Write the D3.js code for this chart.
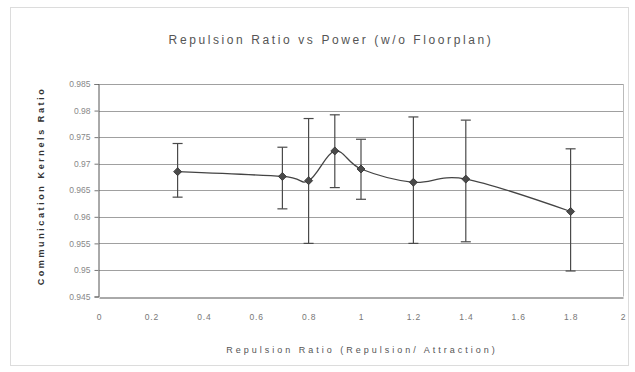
<!DOCTYPE html>
<html>
<head>
<meta charset="utf-8">
<title>Repulsion Ratio vs Power</title>
<script src="https://d3js.org/d3.v7.min.js"></script>
<style>
  body { margin: 0; background: #fff; }
  text { font-family: "Liberation Sans", Arial, sans-serif; }
</style>
</head>
<body>
<div id="chart"></div>
<script>
// data
let ratios = [0.3, 0.7, 0.8, 0.9, 1.0, 1.2, 1.4, 1.8];
let means  = [0.9685, 0.9676, 0.9668, 0.9724, 0.9690, 0.9665, 0.9671, 0.9610];
let upper  = [0.9738, 0.9731, 0.9785, 0.9792, 0.9746, 0.9788, 0.9782, 0.9728];
let lower  = [0.9637, 0.9615, 0.9550, 0.9655, 0.9633, 0.9550, 0.9553, 0.9498];
let xTicks = [0, 0.2, 0.4, 0.6, 0.8, 1, 1.2, 1.4, 1.6, 1.8, 2];
let yTicks = [0.945, 0.95, 0.955, 0.96, 0.965, 0.97, 0.975, 0.98, 0.985];

let W = 635, H = 372;
let svg = d3.select("#chart").append("svg")
    .attr("width", W).attr("height", H);

// faint outer chart border
svg.append("rect")
    .attr("x", 10.5).attr("y", 7.5)
    .attr("width", 618).attr("height", 358)
    .attr("fill", "none").attr("stroke", "#dcdcdc");

let x = d3.scaleLinear().domain([0, 2]).range([99, 623]);
let y = d3.scaleLinear().domain([0.945, 0.985]).range([296.5, 84]);

// gridlines
svg.append("g").selectAll("line")
    .data(yTicks.slice(1))
    .join("line")
      .attr("x1", x(0)).attr("x2", x(2))
      .attr("y1", d => Math.round(y(d)) + 0.5)
      .attr("y2", d => Math.round(y(d)) + 0.5)
      .attr("stroke", "#a0a0a0");

// right border of plot area
svg.append("line")
    .attr("x1", x(2) + 0.5).attr("x2", x(2) + 0.5)
    .attr("y1", y(0.985)).attr("y2", y(0.945))
    .attr("stroke", "#bbb");

// axes
let xAxis = d3.axisBottom(x).tickValues(xTicks).tickSize(0).tickPadding(16)
    .tickFormat(d => String(d));
let yAxis = d3.axisLeft(y).tickValues(yTicks).tickSize(4).tickPadding(4)
    .tickFormat(d => String(d));

let gx = svg.append("g")
    .attr("transform", "translate(0," + (Math.round(y(0.945)) + 0.5) + ")")
    .call(xAxis);
gx.select(".domain").attr("stroke", "#555");
gx.selectAll("text").attr("fill", "#777").attr("font-size", "8.5px")
    .attr("letter-spacing", "0.8px");

let gy = svg.append("g")
    .attr("transform", "translate(" + (x(0) - 0.5) + ",0)")
    .call(yAxis);
gy.select(".domain").attr("stroke", "#555");
gy.selectAll("line").attr("stroke", "#777");
gy.selectAll("text").attr("fill", "#888").attr("font-size", "8.5px");

// smoothed line
let pts = ratios.map((r, i) => [x(r), y(means[i])]);
svg.append("path")
    .attr("d", d3.line().curve(d3.curveCatmullRom.alpha(0))(pts))
    .attr("fill", "none")
    .attr("stroke", "#444")
    .attr("stroke-width", 1.3);

// error bars
let eb = svg.append("g").attr("stroke", "#4a4a4a").attr("stroke-width", 1.2);
ratios.forEach((r, i) => {
  let cx = x(r);
  eb.append("line").attr("x1", cx).attr("x2", cx)
    .attr("y1", y(upper[i])).attr("y2", y(lower[i]));
  eb.append("line").attr("x1", cx - 5).attr("x2", cx + 5)
    .attr("y1", y(upper[i])).attr("y2", y(upper[i]));
  eb.append("line").attr("x1", cx - 5).attr("x2", cx + 5)
    .attr("y1", y(lower[i])).attr("y2", y(lower[i]));
});

// diamond markers
svg.append("g").selectAll("path")
    .data(ratios)
    .join("path")
      .attr("d", d3.symbol(d3.symbolSquare, 32))
      .attr("transform", (d, i) => "translate(" + x(d) + "," + y(means[i]) + ") rotate(45)")
      .attr("fill", "#4a4a4a")
      .attr("stroke", "#333")
      .attr("stroke-width", 0.8);

// titles
svg.append("text")
    .attr("x", 331).attr("y", 44)
    .attr("text-anchor", "middle")
    .attr("font-size", "12px")
    .attr("letter-spacing", "2.6px")
    .attr("fill", "#555")
    .text("Repulsion Ratio vs Power (w/o Floorplan)");

svg.append("text")
    .attr("x", 362).attr("y", 353)
    .attr("text-anchor", "middle")
    .attr("font-size", "9px")
    .attr("letter-spacing", "3px")
    .attr("fill", "#555")
    .text("Repulsion Ratio (Repulsion/ Attraction)");

svg.append("text")
    .attr("transform", "translate(44,186) rotate(-90)")
    .attr("text-anchor", "middle")
    .attr("font-size", "9px")
    .attr("font-weight", "bold")
    .attr("letter-spacing", "2.6px")
    .attr("fill", "#333")
    .text("Communication Kernels Ratio");
</script>
</body>
</html>
